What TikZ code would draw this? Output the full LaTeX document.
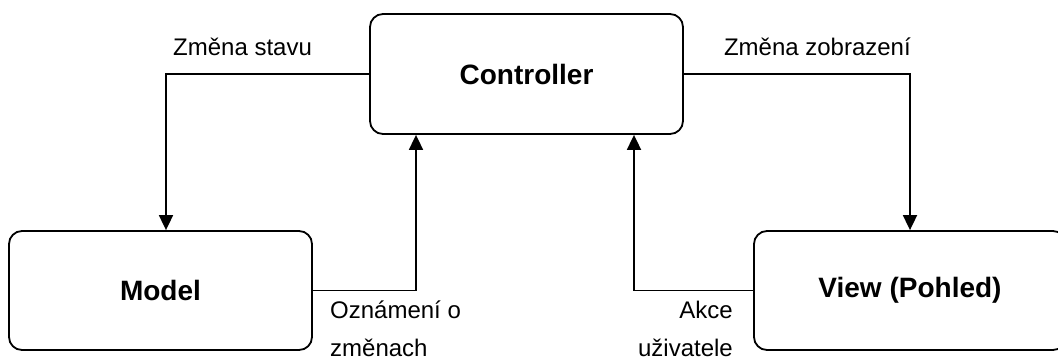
\documentclass[tikz,border=0pt]{standalone}
\usepackage{fontspec}
\setmainfont{Liberation Sans}
\usetikzlibrary{arrows.meta}

\tikzset{
  part/.style={draw, line width=1.8pt, rounded corners=13pt,
    font=\fontsize{28}{34}\selectfont\bfseries, align=center, inner sep=0pt},
  flow/.style={line width=1.8pt, -{Triangle[length=15pt,width=14pt]}},
  note/.style={font=\fontsize{24}{28}\selectfont, inner sep=0pt}
}

\begin{document}
\begin{tikzpicture}[x=1pt, y=-1pt]
  \useasboundingbox (0,0) rectangle (1058,362);
  \clip (0,0) rectangle (1058,362);

  % the three components
  \node[part, minimum width=313pt, minimum height=120pt] (ctrl) at (526.5,74) {Controller};
  \node[part, minimum width=303pt, minimum height=119pt] (model) at (160.5,290.5) {Model};
  \node[part, minimum width=312pt, minimum height=119pt] (view) at (910,290.5) {View (Pohled)};

  % controller drives model and view
  \draw[flow] (ctrl.west) -| ([xshift=5.5pt]model.north);
  \draw[flow] (ctrl.east) -| (view.north);

  % model and view report back to the controller
  \draw[flow] (model.east) -| ([xshift=-110.5pt]ctrl.south);
  \draw[flow] (view.west) -| ([xshift=107.5pt]ctrl.south);

  % labels on the connectors
  \node[note, anchor=base west] (l1) at (173,55) {Změna stavu};
  \node[note, anchor=base east] (l2) at (911,55) {Změna zobrazení};
  \node[note, anchor=base west] (l3) at (330,318) {Oznámení o};
  \node[note, anchor=base west] (l4) at (330,356) {změnach};
  \node[note, anchor=base east] (l5) at (733,318) {Akce};
  \node[note, anchor=base east] (l6) at (733,356) {uživatele};
\end{tikzpicture}
\end{document}
